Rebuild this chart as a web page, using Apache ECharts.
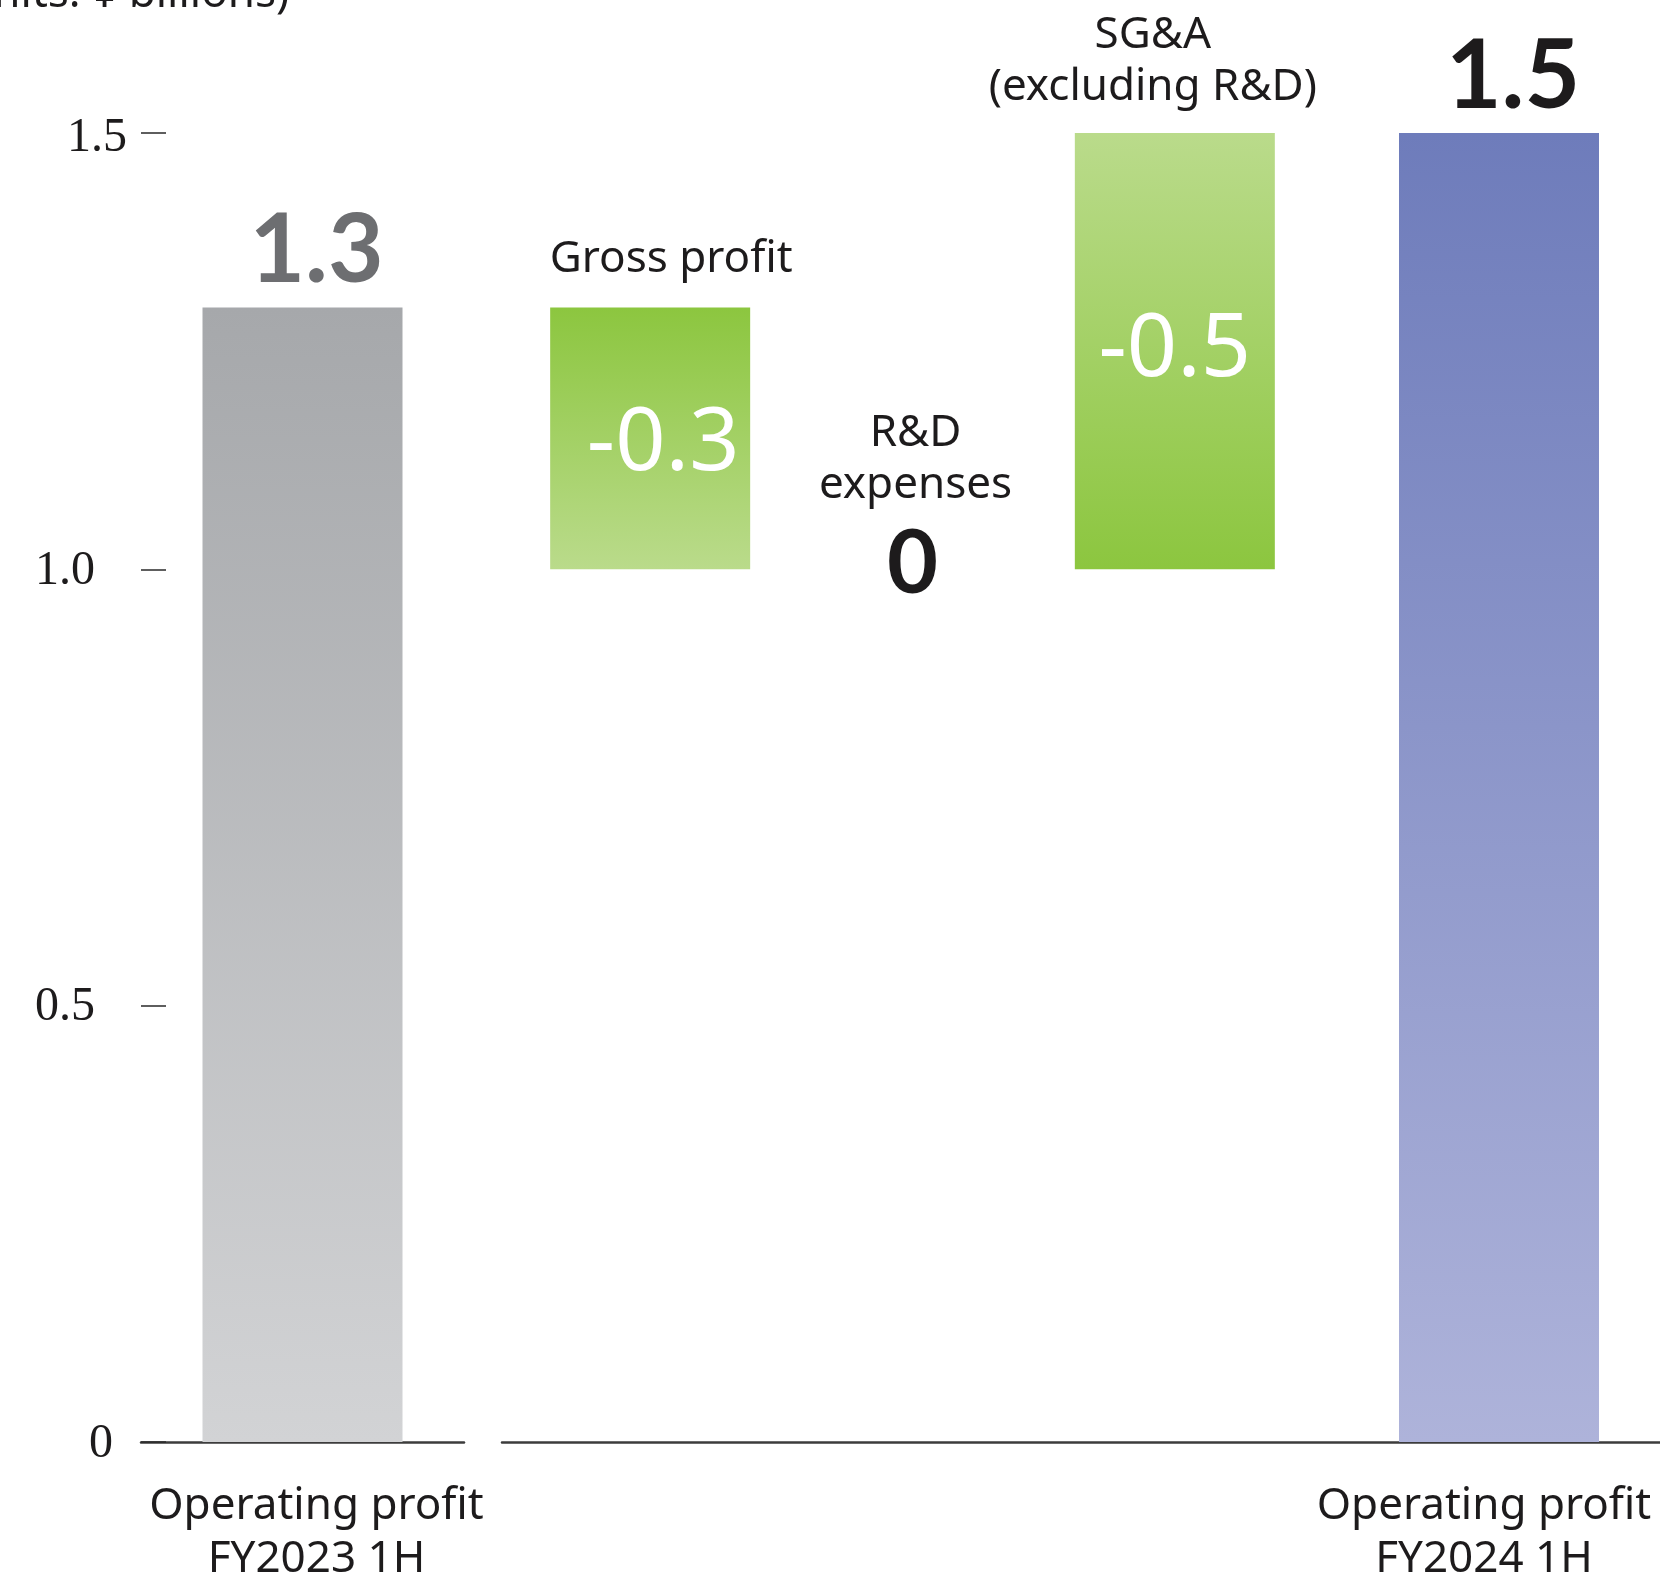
<!DOCTYPE html>
<html>
<head>
<meta charset="utf-8">
<title>Operating profit bridge FY2023 1H to FY2024 1H</title>
<script src="https://cdn.jsdelivr.net/npm/echarts@6/dist/echarts.min.js"></script>
<style>
  html, body { margin: 0; padding: 0; background: #ffffff; }
  #chart { width: 1660px; height: 1576px; }
</style>
</head>
<body>
<div id="chart"></div>
<script>
// ---- data ----
const unitsText = '(Units: ¥ billions)';
const startCategory = ['Operating profit\nFY2023 1H'];
const startValue = [1.3];
const stepNames = ['Gross profit', 'R&D\nexpenses', 'SG&A\n(excluding R&D)'];
const stepChanges = [-0.3, 0, -0.5];           // change of each line item
const stepKinds = ['profit', 'expense', 'expense']; // a fall in an expense raises profit
const endCategory = ['Operating profit\nFY2024 1H'];
const endValue = [1.5];
const yTickLabels = ['0', '0.5', '1.0', '1.5'];

// ---- waterfall geometry from the data ----
const impacts = stepChanges.map((c, i) => (stepKinds[i] === 'profit' ? c : -c));
const bases = [];
const heights = [];
let running = startValue[0];
impacts.forEach((d) => {
  const next = Math.round((running + d) * 100) / 100;
  bases.push(Math.min(running, next));
  heights.push(Math.abs(d));
  running = next;
});

const G = echarts.graphic.LinearGradient;
const grayFill = new G(0, 0, 0, 1, [{ offset: 0, color: '#a6a8ab' }, { offset: 1, color: '#d2d3d5' }]);
const blueFill = new G(0, 0, 0, 1, [{ offset: 0, color: '#6e7cbb' }, { offset: 1, color: '#aeb3da' }]);
const greenDown = new G(0, 0, 0, 1, [{ offset: 0, color: '#8cc63f' }, { offset: 1, color: '#badb8b' }]);
const greenUp = new G(0, 0, 0, 1, [{ offset: 0, color: '#badb8b' }, { offset: 1, color: '#8cc63f' }]);

const SANS = '"Noto Sans", "DejaVu Sans", sans-serif';
const BOLD = 'Lato, "Noto Sans", sans-serif';
const SERIF = '"Liberation Serif", "DejaVu Serif", serif';
const INK = '#1d1b1c';

// label placement of the step names above each step
const nameLabelLayout = [
  { distance: 22, offset: [21, 0] },
  { distance: 58, offset: [3, 0] },
  { distance: 20, offset: [-22, 0] }
];
const valueLabelOffsets = [[13, 7], [0, -5], [0, 0]];

const deltaItems = heights.map((h, i) => {
  const rising = impacts[i] > 0;
  const isZero = stepChanges[i] === 0;
  return {
    value: h,
    itemStyle: { color: rising ? greenUp : greenDown },
    label: isZero
      ? { color: INK, fontFamily: BOLD, fontWeight: 'bold', fontSize: 88, offset: valueLabelOffsets[i] }
      : { color: '#ffffff', fontFamily: SANS, fontWeight: 'normal', fontSize: 88, offset: valueLabelOffsets[i] }
  };
});

const nameItems = stepNames.map((n, i) => ({
  value: 0,
  label: { distance: nameLabelLayout[i].distance, offset: nameLabelLayout[i].offset }
}));

const yLabelStyle = { fontFamily: SERIF, fontSize: 48, color: INK };

const hiddenY = (idx) => ({
  gridIndex: idx, type: 'value', min: 0, max: 1.5, interval: 0.5,
  axisLine: { show: false }, axisTick: { show: false },
  axisLabel: { show: false }, splitLine: { show: false }
});

const baseLine = { show: true, lineStyle: { color: '#3c3c3c', width: 2.5 } };
const plotV = { top: 133, bottom: 134, containLabel: false, outerBoundsMode: 'none' };

const option = {
  animation: false,
  backgroundColor: '#ffffff',
  title: {
    text: unitsText,
    left: -57,
    top: -33,
    textStyle: { fontFamily: SANS, fontSize: 44, fontWeight: 'normal', color: INK }
  },
  grid: [
    Object.assign({ left: 141, width: 323 }, plotV),
    Object.assign({ left: 519, width: 787 }, plotV),
    Object.assign({ left: 1338, width: 322 }, plotV),
    Object.assign({ left: 502, right: -40 }, plotV)
  ],
  xAxis: [
    {
      gridIndex: 0, type: 'category', data: startCategory,
      axisLine: baseLine, axisTick: { show: false },
      axisLabel: {
        margin: 38, fontFamily: SANS, fontSize: 44, lineHeight: 53, color: INK,
        padding: [0, 0, 0, 28]
      }
    },
    {
      gridIndex: 1, type: 'category', data: stepNames,
      axisLine: { show: false }, axisTick: { show: false }, axisLabel: { show: false }
    },
    {
      gridIndex: 2, type: 'category', data: endCategory,
      axisLine: { show: false }, axisTick: { show: false },
      axisLabel: {
        margin: 38, fontFamily: SANS, fontSize: 44, lineHeight: 53, color: INK,
        padding: [0, 30, 0, 0]
      }
    },
    {
      gridIndex: 3, type: 'category', data: [''],
      axisLine: baseLine, axisTick: { show: false }, axisLabel: { show: false }
    }
  ],
  yAxis: [
    {
      gridIndex: 0, type: 'value', min: 0, max: 1.5, interval: 0.5,
      axisLine: { show: false },
      axisTick: { show: true, inside: true, length: 25, lineStyle: { color: '#2a2a2a', width: 1.5 } },
      splitLine: { show: false },
      axisLabel: {
        margin: 14,
        formatter: (v) => {
          const i = Math.round(v / 0.5);
          const key = i === 0 ? 'z' : (i === 3 ? 't' : 'm');
          return '{' + key + '|' + yTickLabels[i] + '}';
        },
        rich: {
          t: Object.assign({ padding: [10, 0, 0, 0] }, yLabelStyle),
          m: Object.assign({ padding: [4, 32, 0, 0] }, yLabelStyle),
          z: Object.assign({ padding: [4, 14, 0, 0] }, yLabelStyle)
        }
      }
    },
    hiddenY(1), hiddenY(2), hiddenY(3)
  ],
  series: [
    {
      name: 'Operating profit FY2023 1H', type: 'bar', xAxisIndex: 0, yAxisIndex: 0,
      data: startValue, barWidth: 200, silent: true,
      itemStyle: { color: grayFill },
      label: {
        show: true, position: 'top', distance: 8, offset: [14, 0],
        formatter: (p) => p.value.toFixed(1),
        fontFamily: BOLD, fontWeight: 'bold', fontSize: 96, color: '#6d6e71'
      }
    },
    {
      name: 'base', type: 'bar', xAxisIndex: 1, yAxisIndex: 1, stack: 'bridge',
      data: bases, barWidth: 200, silent: true,
      itemStyle: { color: 'rgba(0,0,0,0)' }
    },
    {
      name: 'change', type: 'bar', xAxisIndex: 1, yAxisIndex: 1, stack: 'bridge',
      data: deltaItems, barWidth: 200, silent: true,
      label: {
        show: true, position: 'inside',
        formatter: (p) => {
          const c = stepChanges[p.dataIndex];
          return c === 0 ? '0' : c.toFixed(1);
        }
      }
    },
    {
      name: 'step names', type: 'bar', xAxisIndex: 1, yAxisIndex: 1, stack: 'bridge',
      data: nameItems, barWidth: 200, silent: true,
      itemStyle: { color: 'rgba(0,0,0,0)' },
      label: {
        show: true, position: 'top',
        formatter: (p) => stepNames[p.dataIndex],
        fontFamily: SANS, fontSize: 44, lineHeight: 52, color: INK, align: 'center'
      }
    },
    {
      name: 'Operating profit FY2024 1H', type: 'bar', xAxisIndex: 2, yAxisIndex: 2,
      data: endValue, barWidth: 200, silent: true,
      itemStyle: { color: blueFill },
      label: {
        show: true, position: 'top', distance: 8, offset: [14, 0],
        formatter: (p) => p.value.toFixed(1),
        fontFamily: BOLD, fontWeight: 'bold', fontSize: 96, color: INK
      }
    }
  ]
};

const chart = echarts.init(document.getElementById('chart'), null, { renderer: 'canvas' });
chart.setOption(option);
</script>
</body>
</html>
